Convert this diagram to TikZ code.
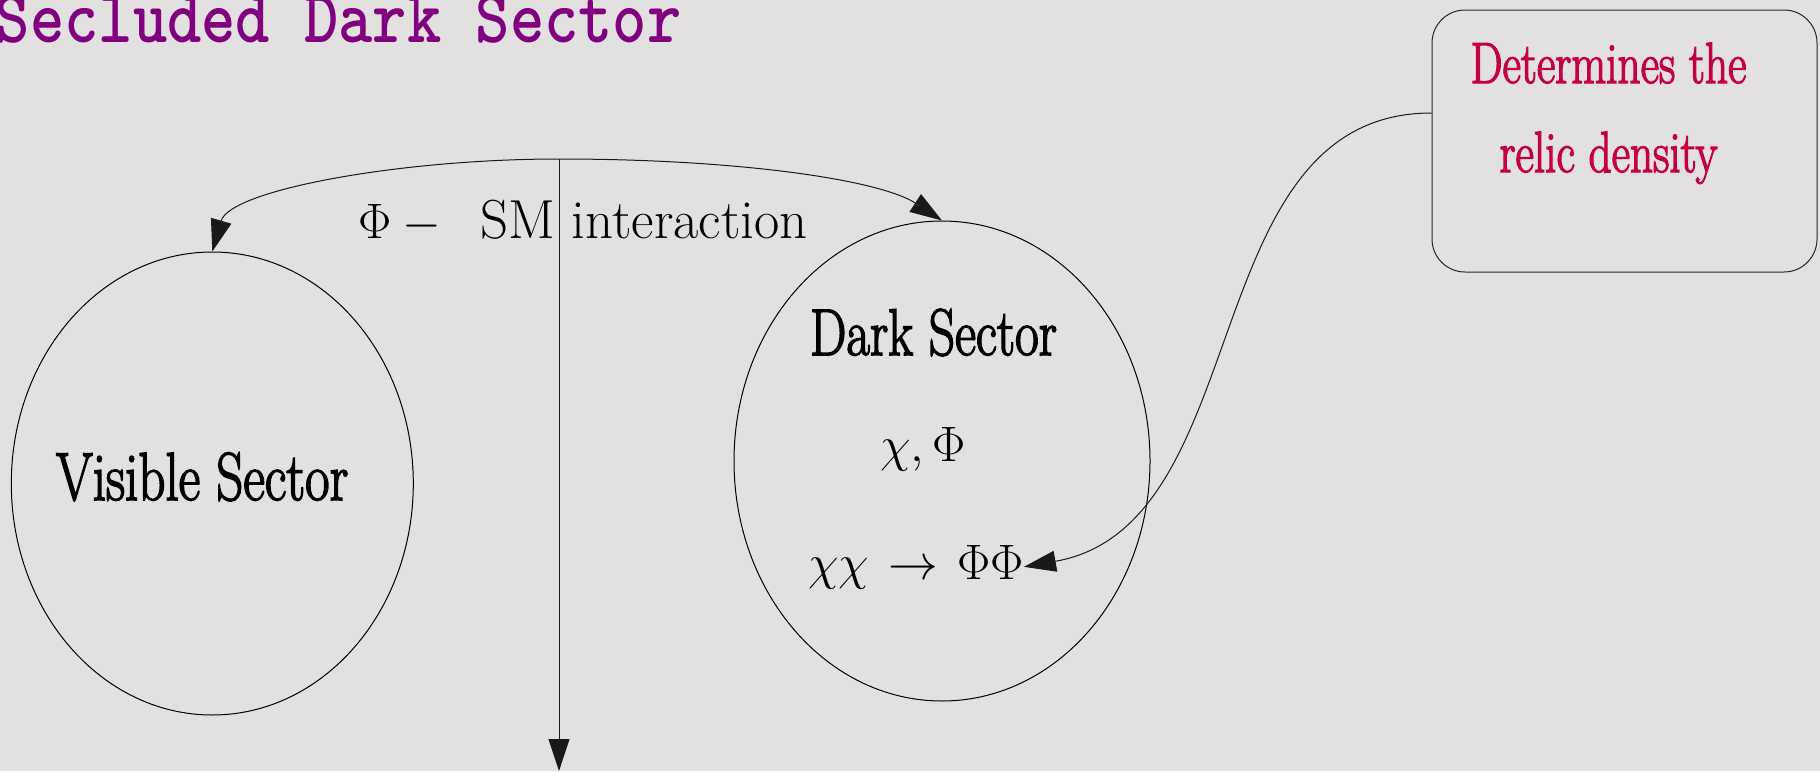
\documentclass[tikz,border=0pt]{standalone}
\usepackage{graphicx}
\usepackage{fontspec}
\newfontfamily\tallf[FakeBold=2.5]{lmroman17-regular.otf}
\usetikzlibrary{shapes.geometric,arrows.meta}
\definecolor{paper}{RGB}{227,225,223}
\definecolor{titlepurple}{RGB}{128,0,128}
\definecolor{relic}{RGB}{196,0,66}
\tikzset{
  px/.style={x=0.5pt,y=-0.5pt},
  sector/.style={draw=black,line width=0.5pt,ellipse,inner sep=0pt},
  txt/.style={inner sep=0pt,outer sep=0pt},
  tip/.style={-{Triangle[length=16pt,width=10.5pt]}},
  wire/.style={line width=0.5pt,draw=black!90},
}
\newcommand{\tallfont}[2]{\fontsize{#1}{#1}\tallf\scalebox{0.78}[1]{#2}}
\begin{document}
\begin{tikzpicture}[px]
\fill[paper] (0,0) rectangle (1820,771);
\useasboundingbox (0,0) rectangle (1820,771);
% title
\node[txt,anchor=base west,text=titlepurple] (title) at (-4,42)
  {\fontsize{32}{32}\selectfont\ttfamily\bfseries\scalebox{1.02}[1.2]{Secluded Dark Sector}};
% sectors
\node[sector,minimum width=201pt,minimum height=231.5pt] (vis) at (212.3,483.5) {};
\node[sector,minimum width=208pt,minimum height=240pt] (dark) at (942,461) {};
\node[txt,anchor=base west] (vislab) at (56,500) {\tallfont{34}{Visible Sector}};
\node[txt,anchor=base west] (darklab) at (810,355) {\tallfont{33}{Dark Sector}};
\node[txt,anchor=base west] (fields) at (880,461) {\fontsize{24}{24}\selectfont$\chi,\Phi$};
\node[txt,anchor=base west] (proc) at (808,579) {\fontsize{23.5}{23.5}\selectfont$\chi\chi\mskip2mu\rightarrow\mskip2mu\Phi\Phi$};
% relic box
\node[draw=black!85,line width=0.5pt,rounded corners=16.5pt,minimum width=192.5pt,minimum height=131pt,inner sep=0pt] (box) at (1624.5,141) {};
\node[txt,anchor=base,text=relic] (rel1) at (1608.5,83) {\tallfont{29}{Determines the}};
\node[txt,anchor=base,text=relic] (rel2) at (1608.5,172) {\tallfont{29}{relic density}};
% interaction
\coordinate (top) at (559,159);
\coordinate (bottom) at (559,771);
\node[txt,anchor=base] (inter) at (583,238) {\fontsize{27.5}{27.5}\selectfont$\Phi-{}$\hspace{14pt}SM\ interaction};
\draw[wire,tip] (top) .. controls (400,159) and (230,190) .. (vis.north);
\draw[wire,tip] (top) .. controls (740,159) and (880,180) .. (dark.north);
\draw[wire,tip] (top) -- (bottom);
\draw[wire,tip] ([yshift=14pt]box.west) to[out=180,in=10] (proc.east);
\end{tikzpicture}
\end{document}
